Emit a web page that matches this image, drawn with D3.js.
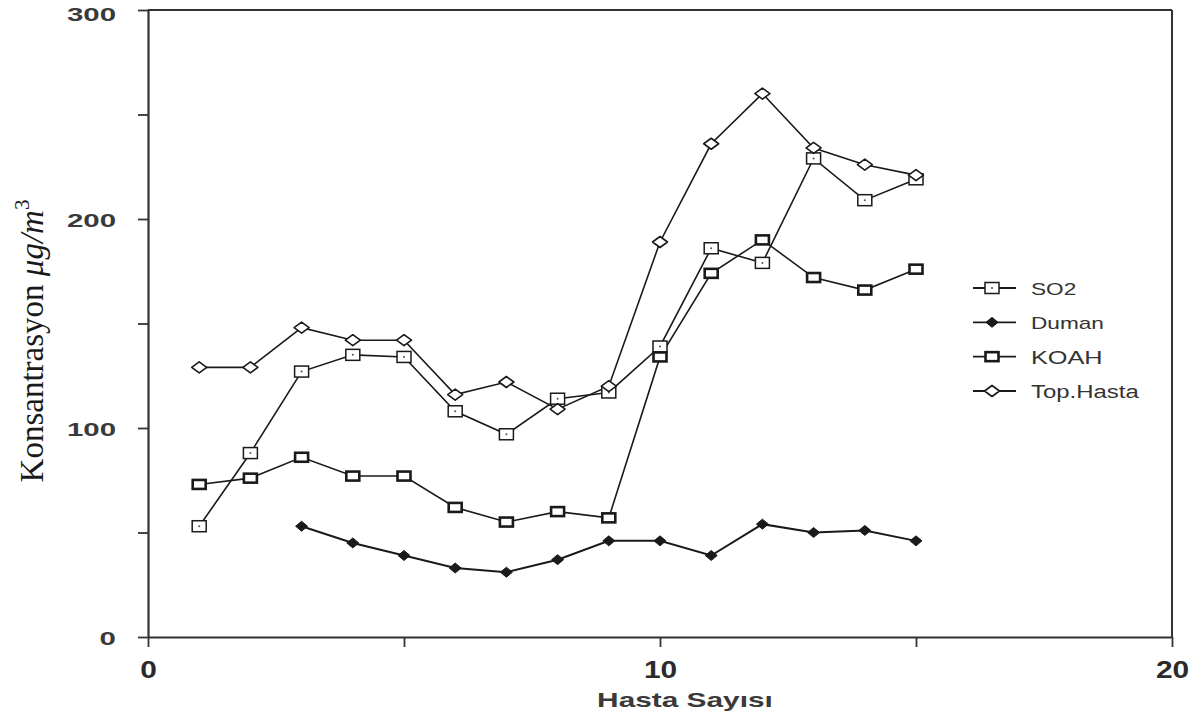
<!DOCTYPE html>
<html>
<head>
<meta charset="utf-8">
<script src="https://cdn.jsdelivr.net/npm/d3@7"></script>
<style>
  html, body { margin: 0; padding: 0; background: #fff; }
  svg { display: block; }
</style>
</head>
<body>
<svg id="chart" width="1203" height="719"></svg>
<script>
// ---- data ----
const xValues = [1, 2, 3, 4, 5, 6, 7, 8, 9, 10, 11, 12, 13, 14, 15];
const so2 = [53, 88, 127, 135, 134, 108, 97, 114, 117, 139, 186, 179, 229, 209, 219];
const dumanX = [3, 4, 5, 6, 7, 8, 9, 10, 11, 12, 13, 14, 15];
const duman = [53, 45, 39, 33, 31, 37, 46, 46, 39, 54, 50, 51, 46];
const koah = [73, 76, 86, 77, 77, 62, 55, 60, 57, 134, 174, 190, 172, 166, 176];
const topHasta = [129, 129, 148, 142, 142, 116, 122, 109, 120, 189, 236, 260, 234, 226, 221];

const yTicks = [0, 50, 100, 150, 200, 250, 300];
const yLabelTicks = [0, 100, 200, 300];
const xTicks = [0, 5, 10, 15, 20];
const xLabelTicks = [0, 10, 20];

const legendNames = ["SO2", "Duman", "KOAH", "Top.Hasta"];
const xTitle = "Hasta Sayısı";

// ---- layout ----
const svg = d3.select("#chart");
const mLeft = 148, mRight = 1172, mTop = 10, mBottom = 637;
const x = d3.scaleLinear().domain([0, 20]).range([mLeft, mRight]);
const y = d3.scaleLinear().domain([0, 300]).range([mBottom, mTop]);
const ink = "#1a1a1a";
const axisInk = "#333";
const sans = "Liberation Sans, Arial, sans-serif";

// the scanned original is stretched horizontally; widen sans text to match
function stretch(sel, k) {
  sel.each(function () {
    const w = this.getComputedTextLength();
    d3.select(this).attr("textLength", w * k).attr("lengthAdjust", "spacingAndGlyphs");
  });
}

// frame (top and right)
svg.append("line").attr("x1", mLeft).attr("x2", mRight).attr("y1", mTop).attr("y2", mTop)
  .attr("stroke", axisInk).attr("stroke-width", 2);
svg.append("line").attr("x1", mRight).attr("x2", mRight).attr("y1", mTop).attr("y2", mBottom)
  .attr("stroke", axisInk).attr("stroke-width", 2);

// y axis
const yAxis = svg.append("g").attr("transform", `translate(${mLeft},0)`)
  .call(d3.axisLeft(y).tickValues(yTicks).tickSize(10).tickSizeOuter(0)
    .tickFormat(d => yLabelTicks.includes(d) ? d : ""));
yAxis.select(".domain").attr("stroke", axisInk).attr("stroke-width", 2.2);
yAxis.selectAll(".tick line").attr("stroke", axisInk).attr("stroke-width", 1.8);
yAxis.selectAll(".tick text").attr("x", -32).attr("font-family", sans)
  .attr("font-size", 19).attr("font-weight", "bold").attr("fill", "#3a3a3a")
  .attr("dy", d => d === 300 ? "0.55em" : "0.42em")
  .call(stretch, 1.55);

// x axis
const xAxis = svg.append("g").attr("transform", `translate(0,${mBottom})`)
  .call(d3.axisBottom(x).tickValues(xTicks).tickSize(10).tickSizeOuter(0)
    .tickFormat(d => xLabelTicks.includes(d) ? d : ""));
xAxis.select(".domain").attr("stroke", axisInk).attr("stroke-width", 2.2);
xAxis.selectAll(".tick line").attr("stroke", axisInk).attr("stroke-width", 1.8);
xAxis.selectAll(".tick text").attr("y", 25).attr("font-family", sans)
  .attr("font-size", 23).attr("font-weight", "bold").attr("fill", "#2a2a2a")
  .call(stretch, 1.3);

// axis titles
svg.append("text").attr("x", 685).attr("y", 707).attr("text-anchor", "middle")
  .attr("font-family", sans).attr("font-size", 21)
  .attr("font-weight", "bold").attr("fill", "#3a3a3a").text(xTitle)
  .call(stretch, 1.42);

const yt = svg.append("text").attr("transform", "translate(43,341) rotate(-90)")
  .attr("text-anchor", "middle").attr("font-family", "Liberation Serif, Times New Roman, serif")
  .attr("font-size", 33).attr("fill", ink);
yt.append("tspan").text("Konsantrasyon ");
yt.append("tspan").attr("font-style", "italic").text("μg/m");
yt.append("tspan").attr("dy", -14).attr("font-size", 21).text("3");

// ---- markers ----
function drawMarker(g, type, cx, cy) {
  if (type === "SO2") {
    g.append("rect").attr("x", cx - 7).attr("y", cy - 5.5).attr("width", 14).attr("height", 11)
      .attr("fill", "#fff").attr("stroke", ink).attr("stroke-width", 1.5);
    g.append("circle").attr("cx", cx).attr("cy", cy).attr("r", 1).attr("fill", "#555");
  } else if (type === "Duman") {
    g.append("path").attr("d", `M${cx - 6},${cy} L${cx},${cy - 5} L${cx + 6},${cy} L${cx},${cy + 5} Z`)
      .attr("fill", ink).attr("stroke", ink).attr("stroke-width", 1);
  } else if (type === "KOAH") {
    g.append("rect").attr("x", cx - 6.5).attr("y", cy - 4.5).attr("width", 13).attr("height", 9)
      .attr("fill", "#fff").attr("stroke", ink).attr("stroke-width", 2.6);
  } else {
    g.append("path").attr("d", `M${cx - 7.5},${cy} L${cx},${cy - 5.5} L${cx + 7.5},${cy} L${cx},${cy + 5.5} Z`)
      .attr("fill", "#fff").attr("stroke", ink).attr("stroke-width", 1.6).attr("stroke-linejoin", "round");
  }
}

const series = [
  { name: "SO2", xs: xValues, ys: so2 },
  { name: "Duman", xs: dumanX, ys: duman },
  { name: "KOAH", xs: xValues, ys: koah },
  { name: "Top.Hasta", xs: xValues, ys: topHasta }
];

const line = d3.line().x(d => x(d[0])).y(d => y(d[1]));
series.forEach(s => {
  const pts = s.xs.map((v, i) => [v, s.ys[i]]);
  svg.append("path").datum(pts).attr("d", line).attr("fill", "none")
    .attr("stroke", ink).attr("stroke-width", s.name === "Duman" ? 2 : 1.6);
});
series.forEach(s => {
  const g = svg.append("g");
  s.xs.forEach((v, i) => drawMarker(g, s.name, x(v), y(s.ys[i])));
});

// ---- legend ----
const legY = d3.scalePoint().domain(legendNames).range([288, 391]);
const legFont = { "SO2": 17, "Duman": 17, "KOAH": 19, "Top.Hasta": 18 };
legendNames.forEach(n => {
  const ly = legY(n);
  const g = svg.append("g");
  g.append("line").attr("x1", 973).attr("x2", 1016).attr("y1", ly).attr("y2", ly)
    .attr("stroke", ink).attr("stroke-width", 1.8);
  drawMarker(g, n, 992, ly);
  g.append("text").attr("x", 1031).attr("y", ly + 7)
    .attr("font-family", sans)
    .attr("font-size", legFont[n])
    .attr("fill", "#333").text(n)
    .call(stretch, 1.33);
});
</script>
</body>
</html>
